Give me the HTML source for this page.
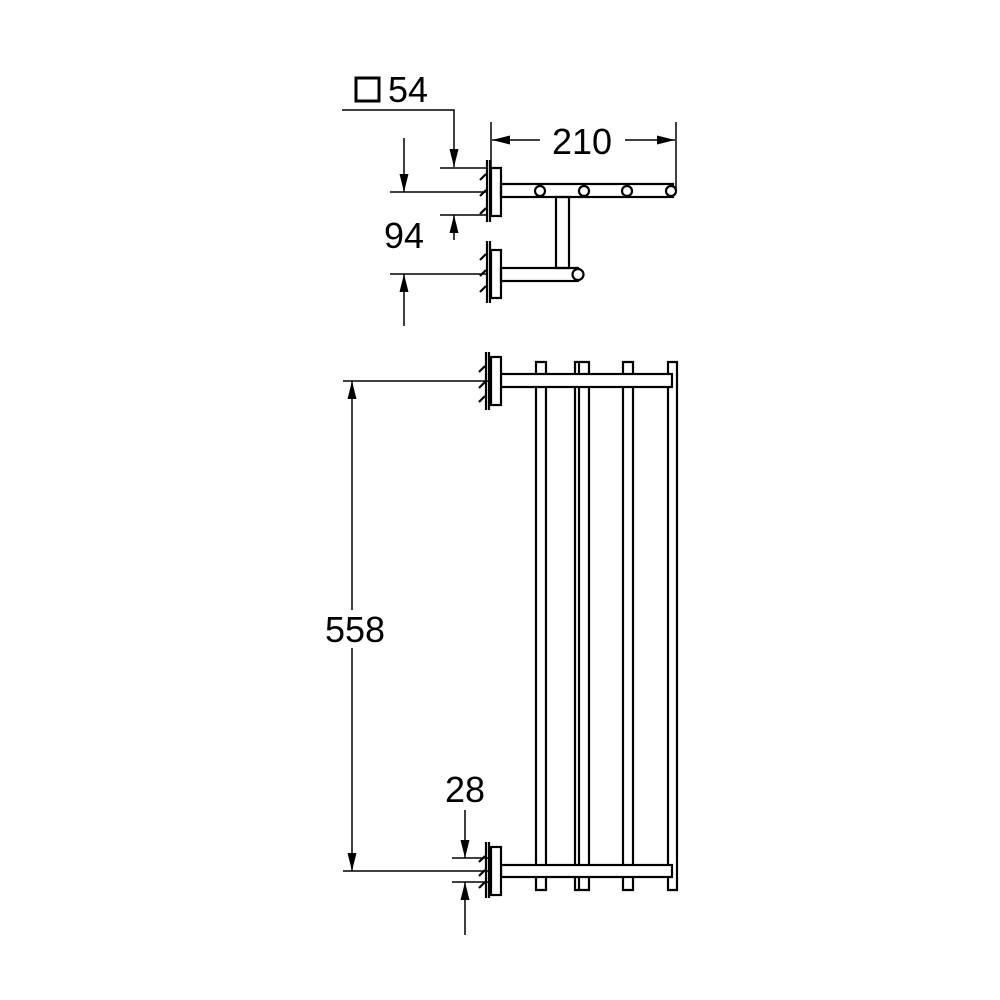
<!DOCTYPE html>
<html><head><style>body{margin:0;background:#fff}svg{display:block}</style></head><body>
<svg width="1000" height="1000" viewBox="0 0 1000 1000" xmlns="http://www.w3.org/2000/svg" font-family="Liberation Sans, sans-serif">
<defs>
<marker id="a" viewBox="0 0 20 10" refX="20" refY="5" markerWidth="20" markerHeight="9" markerUnits="userSpaceOnUse" orient="auto"><path d="M0,0 L20,5 L0,10 z" fill="#000"/></marker>
</defs>
<g stroke="#000" fill="none" stroke-width="1.5">
<!-- top view -->
<rect x="356" y="78" width="23" height="23" stroke-width="3"/>
<path d="M342 110 H454 V167" marker-end="url(#a)"/>
<line x1="491" y1="122" x2="491" y2="168"/><line x1="676" y1="122" x2="676" y2="190"/>
<line x1="540" y1="140" x2="492" y2="140" marker-end="url(#a)" stroke-width="1.6"/>
<line x1="625" y1="140" x2="675" y2="140" marker-end="url(#a)" stroke-width="1.6"/>
<line x1="440" y1="168" x2="488" y2="168"/><line x1="390" y1="192" x2="488" y2="192"/>
<line x1="440" y1="215" x2="488" y2="215"/><line x1="390" y1="274" x2="488" y2="274"/>
<line x1="404" y1="138" x2="404" y2="192" marker-end="url(#a)"/>
<line x1="404" y1="326" x2="404" y2="274" marker-end="url(#a)"/>
<line x1="454" y1="240" x2="454" y2="215" marker-end="url(#a)"/>
<g stroke-width="2.2">
<line x1="487" y1="160" x2="487" y2="222"/><line x1="490" y1="160" x2="490" y2="222"/>
<rect x="491" y="168" width="10" height="48"/>
<rect x="501" y="184" width="172" height="13"/>
<rect x="556" y="197" width="13" height="71"/>
<circle cx="540" cy="191" r="5" fill="#fff"/><circle cx="584" cy="191" r="5" fill="#fff"/><circle cx="627" cy="191" r="5" fill="#fff"/><circle cx="671" cy="191" r="5" fill="#fff"/>
<line x1="487" y1="241" x2="487" y2="303"/><line x1="490" y1="241" x2="490" y2="303"/>
<rect x="491" y="250" width="10" height="48"/>
<rect x="501" y="268" width="77" height="13"/>
<circle cx="578" cy="274.5" r="5.5" fill="#fff"/>
<path d="M480 180 l6 -6 M480 196 l6 -6 M480 214 l6 -6 M480 260 l6 -6 M480 276 l6 -6 M480 292 l6 -6"/>
</g>
<!-- front view -->
<line x1="343" y1="381" x2="488" y2="381"/><line x1="343" y1="871" x2="488" y2="871"/>
<line x1="352" y1="610" x2="352" y2="381" marker-end="url(#a)"/>
<line x1="352" y1="648" x2="352" y2="871" marker-end="url(#a)"/>
<line x1="452" y1="858" x2="488" y2="858"/><line x1="452" y1="882" x2="488" y2="882"/>
<line x1="465" y1="810" x2="465" y2="858" marker-end="url(#a)"/>
<line x1="465" y1="935" x2="465" y2="882" marker-end="url(#a)"/>
<g stroke-width="2.2">
<path d="M536 890 V362 h10 V890 z"/><path d="M575 890 V362 h14 V890 z"/><line x1="579" y1="362" x2="579" y2="890"/>
<path d="M623 890 V362 h10 V890 z"/><path d="M668 890 V362 h9 V890 z"/>
<rect x="501" y="374" width="171" height="13" fill="#fff"/>
<rect x="501" y="865" width="171" height="12" fill="#fff"/>
<line x1="486" y1="352" x2="486" y2="410"/><line x1="489" y1="352" x2="489" y2="410"/>
<rect x="491" y="357" width="10" height="48" fill="#fff"/>
<line x1="486" y1="842" x2="486" y2="898"/><line x1="489" y1="842" x2="489" y2="898"/>
<rect x="491" y="847" width="10" height="48" fill="#fff"/>
<path d="M479 372 l6 -6 M479 388 l6 -6 M479 402 l6 -6 M479 862 l6 -6 M479 876 l6 -6 M479 888 l6 -6"/>
</g>
</g>
<g font-size="36" fill="#000">
<text x="388" y="102">54</text>
<text x="552" y="154">210</text>
<text x="384" y="248">94</text>
<text x="325" y="642">558</text>
<text x="445" y="802">28</text>
</g>
</svg>
</body></html>
